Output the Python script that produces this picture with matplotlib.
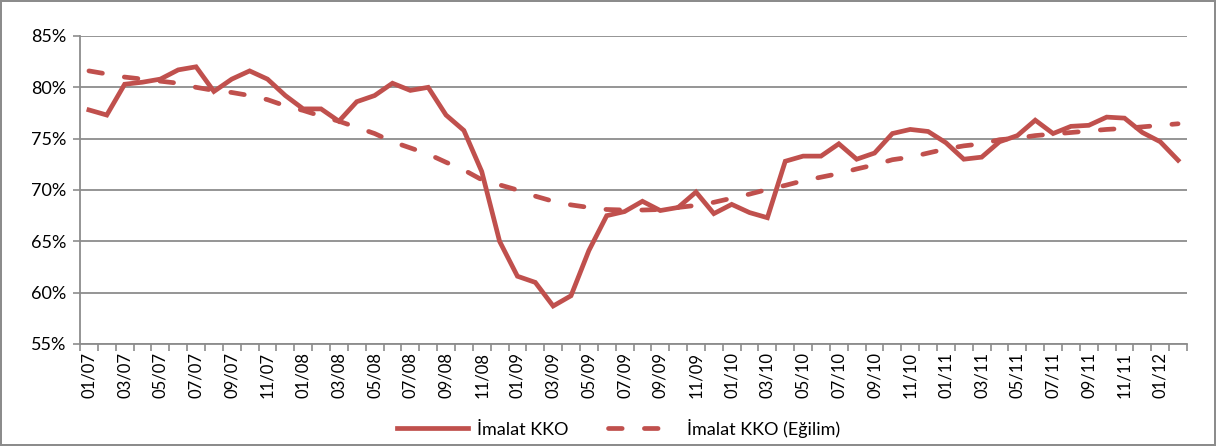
import matplotlib
matplotlib.use("Agg")
import matplotlib.pyplot as plt
from matplotlib.ticker import FuncFormatter, FixedLocator
import numpy as np

# monthly, 01/2007 .. 02/2012
months = [f"{m:02d}/{y:02d}" for y in range(7, 13) for m in range(1, 13)][:62]

kko = [77.8, 77.3, 80.3, 80.5, 80.8, 81.7, 82.0, 79.6, 80.8, 81.6,
       80.8, 79.2, 77.9, 77.9, 76.7, 78.6, 79.2, 80.4, 79.7, 80.0,
       77.3, 75.8, 71.8, 65.0, 61.6, 61.0, 58.7, 59.7, 64.1, 67.5,
       67.9, 68.9, 68.0, 68.3, 69.8, 67.7, 68.6, 67.8, 67.3, 72.8,
       73.3, 73.3, 74.5, 73.0, 73.6, 75.5, 75.9, 75.7, 74.6, 73.0,
       73.2, 74.7, 75.3, 76.8, 75.5, 76.2, 76.3, 77.1, 77.0, 75.6,
       74.7, 72.9]

trend = [81.6, 81.3, 81.0, 80.8, 80.6, 80.4, 80.0, 79.7, 79.5, 79.2,
         78.8, 78.2, 77.75, 77.2, 76.7, 76.1, 75.5, 74.7, 74.1, 73.5,
         72.7, 71.95, 71.0, 70.5, 70.0, 69.4, 68.9, 68.55, 68.3, 68.1,
         68.05, 68.05, 68.1, 68.3, 68.5, 68.8, 69.2, 69.6, 70.05, 70.45,
         70.9, 71.25, 71.6, 72.05, 72.45, 72.95, 73.2, 73.6, 74.0, 74.3,
         74.5, 74.9, 75.05, 75.3, 75.45, 75.6, 75.75, 75.9, 76.0, 76.15,
         76.3, 76.45]

RED = "#C0504D"
GRID = "#8C8C8C"
plt.rcParams["font.family"] = ["Lato", "DejaVu Sans"]

fig = plt.figure(figsize=(12.16, 4.46), dpi=100)
fig.patch.set_edgecolor("#8C8C8C")
fig.patch.set_linewidth(1.5)
ax = fig.add_axes([80 / 1216, 1 - 344 / 446, (1187 - 80) / 1216, (344 - 36) / 446])

x = np.arange(len(months))
ax.plot(x, kko, color=RED, lw=3.4, solid_joinstyle="miter", label="İmalat KKO")
ax.plot(x, trend, color=RED, lw=3.4, dashes=(2.9, 4.7), dash_capstyle="round",
        label="İmalat KKO (Eğilim)")

ax.set_xlim(-0.5, len(months) - 0.5)
ax.set_ylim(55, 85)
ax.set_yticks(np.arange(55, 86, 5))
ax.yaxis.set_major_formatter(FuncFormatter(lambda v, _: f"{v:.0f}%"))
ax.grid(axis="y", color=GRID, lw=1.3)
ax.set_axisbelow(True)

ax.set_xticks(x[::2])
ax.set_xticklabels(months[::2], rotation=90, fontsize=12)
ax.xaxis.set_minor_locator(FixedLocator(np.arange(-0.5, len(months), 1)))
ax.tick_params(axis="x", which="major", length=0, pad=6)
ax.tick_params(axis="x", which="minor", length=5, color=GRID, width=1.2)
ax.tick_params(axis="y", length=5, color=GRID, width=1.2, labelsize=13, pad=5)

for s in ("top", "right"):
    ax.spines[s].set_visible(False)
for s in ("left", "bottom"):
    ax.spines[s].set_color(GRID)
    ax.spines[s].set_linewidth(1.3)

fig.legend(loc="center", bbox_to_anchor=(0.509, 0.04), ncol=2, frameon=False,
           fontsize=13, handlelength=3.9, handletextpad=0.5, columnspacing=2.2)

fig.savefig("out.png", dpi=100)
